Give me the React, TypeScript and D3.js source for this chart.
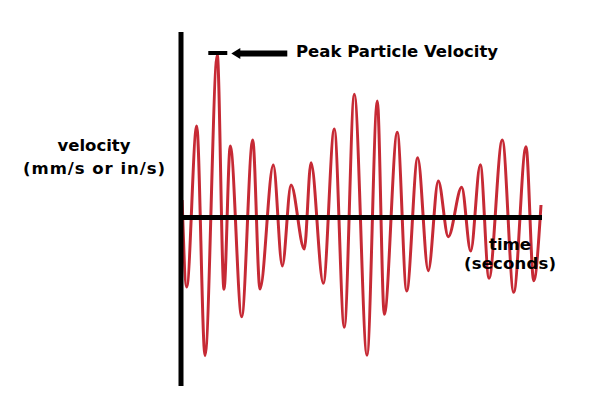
import React from "react";
import * as d3 from "d3";

// time (s) and velocity (relative) of each turning point of the waveform
const times = [
  0.03, 0.158, 0.436, 0.667, 1.008, 1.194, 1.369, 1.686, 1.992, 2.194, 2.564, 2.814,
  3.056, 3.425, 3.611, 3.953, 4.258, 4.536, 4.814, 5.167, 5.453, 5.647, 6.008, 6.269,
  6.575, 6.869, 7.147, 7.425, 7.797, 8.047, 8.314, 8.556, 8.925, 9.242, 9.583, 9.797, 10.0,
];
const velocities = [
  0.108, -0.428, 0.563, -0.85, 1.0, -0.442, 0.44, -0.61, 0.477, -0.44, 0.323, -0.298,
  0.2, -0.194, 0.337, -0.405, 0.545, -0.676, 0.758, -0.848, 0.717, -0.596, 0.524, -0.452,
  0.368, -0.327, 0.225, -0.118, 0.186, -0.206, 0.325, -0.374, 0.477, -0.46, 0.436, -0.389, 0.077,
];
const peakLabel = "Peak Particle Velocity";
const yLabelLines = ["velocity", "(mm/s or in/s)"];
const xLabelLines = ["time", "(seconds)"];

export default function App() {
  const W = 600;
  const H = 413;
  const x = d3.scaleLinear().domain([0, 10]).range([181, 541]);
  const y = d3.scaleLinear().domain([-1, 1]).range([380, 55]);
  const data = times.map((t, i) => [t, velocities[i]] as [number, number]);
  const line = d3
    .line<[number, number]>()
    .x((d) => x(d[0]))
    .y((d) => y(d[1]))
    .curve(d3.curveMonotoneX);
  const peakIdx = velocities.indexOf(d3.max(velocities) as number);
  const px = x(times[peakIdx]);
  const py = y(velocities[peakIdx]) - 2;
  const font = "'DejaVu Sans', Verdana, sans-serif";
  return (
    <svg
      width={W}
      height={H}
      style={{ position: "absolute", left: 0, top: 0, background: "#fff" }}
    >
      <path d={line(data) || ""} fill="none" stroke="#c62a35" strokeWidth={3} strokeLinejoin="round" />
      {/* axes */}
      <line x1={x(0)} x2={x(0)} y1={32} y2={386} stroke="#000" strokeWidth={5} />
      <line x1={x(0)} x2={x(10) + 1} y1={y(0)} y2={y(0)} stroke="#000" strokeWidth={5} />
      {/* peak marker */}
      <line x1={px - 9} x2={px + 10} y1={py} y2={py} stroke="#000" strokeWidth={4} />
      <line x1={px + 20} x2={px + 70} y1={py + 0.5} y2={py + 0.5} stroke="#000" strokeWidth={6} />
      <polygon
        points={`${px + 14},${py + 0.5} ${px + 23},${py - 5} ${px + 23},${py + 6}`}
        fill="#000"
      />
      <text x={296} y={57} fontFamily={font} fontWeight="bold" fontSize={16.5} fill="#000">
        {peakLabel}
      </text>
      <text fontFamily={font} fontWeight="bold" fontSize={16.5} fill="#000" textAnchor="middle">
        {yLabelLines.map((s, i) => (
          <tspan
            key={i}
            x={94}
            y={151 + i * 23}
            {...(i === 1 ? { textLength: 142, lengthAdjust: "spacing" } : {})}
          >
            {s}
          </tspan>
        ))}
      </text>
      <text fontFamily={font} fontWeight="bold" fontSize={16.5} fill="#000" textAnchor="middle">
        {xLabelLines.map((s, i) => (
          <tspan
            key={i}
            x={510}
            y={250 + i * 19}
            {...(i === 1 ? { textLength: 92, lengthAdjust: "spacing" } : {})}
          >
            {s}
          </tspan>
        ))}
      </text>
    </svg>
  );
}
